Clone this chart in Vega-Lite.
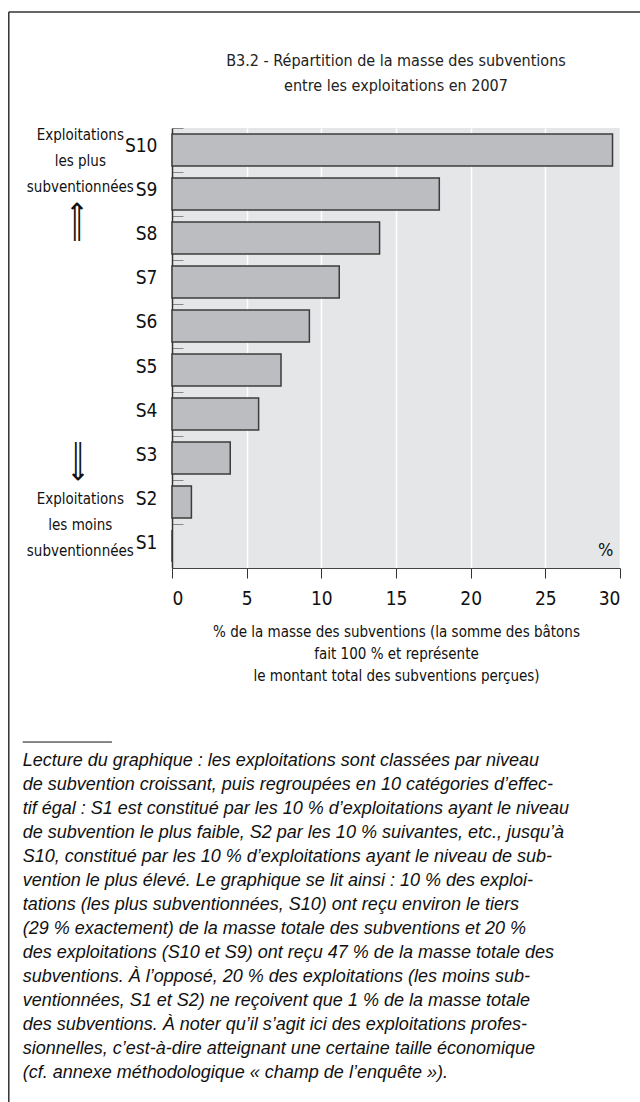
{
  "$schema": "https://vega.github.io/schema/vega-lite/v6.json",
  "width": 448,
  "height": 440,
  "autosize": {"type": "none"},
  "padding": {"left": 172, "top": 128, "right": 20, "bottom": 534},
  "background": "white",
  "config": {"view": {"fill": "#e5e6e8", "stroke": null}},
  "datasets": {
    "bars": [
      {"cat": "S10", "value": 29.5},
      {"cat": "S9", "value": 17.9},
      {"cat": "S8", "value": 13.9},
      {"cat": "S7", "value": 11.2},
      {"cat": "S6", "value": 9.2},
      {"cat": "S5", "value": 7.3},
      {"cat": "S4", "value": 5.8},
      {"cat": "S3", "value": 3.9},
      {"cat": "S2", "value": 1.3},
      {"cat": "S1", "value": 0}
    ],
    "note": [
      {"line": 1, "text": "Lecture du graphique : les exploitations sont classées par niveau"},
      {"line": 2, "text": "de subvention croissant, puis regroupées en 10 catégories d’effec-"},
      {"line": 3, "text": "tif égal : S1 est constitué par les 10 % d’exploitations ayant le niveau"},
      {"line": 4, "text": "de subvention le plus faible, S2 par les 10 % suivantes, etc., jusqu’à"},
      {"line": 5, "text": "S10, constitué par les 10 % d’exploitations ayant le niveau de sub-"},
      {"line": 6, "text": "vention le plus élevé. Le graphique se lit ainsi : 10 % des exploi-"},
      {"line": 7, "text": "tations (les plus subventionnées, S10) ont reçu environ le tiers"},
      {"line": 8, "text": "(29 % exactement) de la masse totale des subventions et 20 %"},
      {"line": 9, "text": "des exploitations (S10 et S9) ont reçu 47 % de la masse totale des"},
      {"line": 10, "text": "subventions. À l’opposé, 20 % des exploitations (les moins sub-"},
      {"line": 11, "text": "ventionnées, S1 et S2) ne reçoivent que 1 % de la masse totale"},
      {"line": 12, "text": "des subventions. À noter qu’il s’agit ici des exploitations profes-"},
      {"line": 13, "text": "sionnelles, c’est-à-dire atteignant une certaine taille économique"},
      {"line": 14, "text": "(cf. annexe méthodologique « champ de l’enquête »)."}
    ]
  },
  "resolve": {"scale": {"y": "independent"}},
  "layer": [
    {
      "layer": [
        {
          "data": {"name": "bars"},
          "mark": {"type": "bar", "fill": "#bcbdc1", "stroke": "#3c3c3c", "strokeWidth": 1.5},
          "encoding": {
            "y": {
              "field": "cat", "type": "nominal",
              "scale": {"domain": ["S10","S9","S8","S7","S6","S5","S4","S3","S2","S1"], "paddingInner": 0.273, "paddingOuter": 0.136},
              "axis": {
                "title": null, "grid": false,
                "domain": true, "domainColor": "#333", "domainWidth": 1.5,
                "ticks": true, "tickSize": -11, "tickOffset": -22, "tickColor": "#888", "tickWidth": 1,
                "labelFont": "DejaVu Sans Condensed, sans-serif",
                "labelFontSize": 19, "labelColor": "#111", "labelPadding": 26, "labelOffset": 18
              }
            },
            "x": {
              "field": "value", "type": "quantitative",
              "scale": {"domain": [0, 30], "nice": false},
              "axis": {
                "values": [0, 5, 10, 15, 20, 25, 30],
                "grid": true, "gridColor": "white", "gridWidth": 1.5,
                "domain": true, "domainColor": "#444", "domainWidth": 1,
                "tickSize": 10, "tickColor": "#333", "tickWidth": 1,
                "labelFont": "DejaVu Sans Condensed, sans-serif",
                "labelFontSize": 19, "labelColor": "#111", "labelPadding": 11,
                "title": ["% de la masse des subventions (la somme des bâtons", "fait 100 % et représente", "le montant total des subventions perçues)"],
                "titleFont": "DejaVu Sans Condensed, sans-serif",
                "titleFontSize": 15, "titleFontWeight": "normal", "titleColor": "#111",
                "titlePadding": 16, "titleLineHeight": 22
              }
            }
          }
        },
        {
          "data": {"values": [{}]},
          "mark": {"type": "text", "text": "%", "fontSize": 18, "font": "DejaVu Sans Condensed, sans-serif", "color": "#111", "align": "center", "baseline": "middle", "dy": 4.5},
          "encoding": {
            "x": {"datum": 29.04, "type": "quantitative", "scale": {"domain": [0, 30], "nice": false}},
            "y": {"datum": "S1", "type": "nominal", "scale": {"domain": ["S10","S9","S8","S7","S6","S5","S4","S3","S2","S1"], "paddingInner": 0.273, "paddingOuter": 0.136}}
          }
        },
        {
          "data": {"values": [{}]},
          "mark": {"type": "text", "text": ["B3.2 - Répartition de la masse des subventions", "entre les exploitations en 2007"], "lineHeight": 25, "fontSize": 16, "font": "DejaVu Sans Condensed, sans-serif", "color": "#222", "align": "center", "baseline": "middle", "dy": -89},
          "encoding": {
            "x": {"datum": 15, "type": "quantitative", "scale": {"domain": [0, 30], "nice": false}},
            "y": {"datum": "S10", "type": "nominal", "scale": {"domain": ["S10","S9","S8","S7","S6","S5","S4","S3","S2","S1"], "paddingInner": 0.273, "paddingOuter": 0.136}}
          }
        },
        {
          "data": {"values": [{}]},
          "mark": {"type": "text", "text": ["Exploitations", "les plus", "subventionnées"], "lineHeight": 26, "fontSize": 15, "font": "DejaVu Sans Condensed, sans-serif", "color": "#111", "align": "center", "baseline": "middle", "dy": -15},
          "encoding": {
            "x": {"datum": -6.14, "type": "quantitative", "scale": {"domain": [0, 30], "nice": false}},
            "y": {"datum": "S10", "type": "nominal", "scale": {"domain": ["S10","S9","S8","S7","S6","S5","S4","S3","S2","S1"], "paddingInner": 0.273, "paddingOuter": 0.136}}
          }
        },
        {
          "data": {"values": [{}]},
          "mark": {"type": "text", "text": ["Exploitations", "les moins", "subventionnées"], "lineHeight": 26, "fontSize": 15, "font": "DejaVu Sans Condensed, sans-serif", "color": "#111", "align": "center", "baseline": "middle", "dy": -3},
          "encoding": {
            "x": {"datum": -6.14, "type": "quantitative", "scale": {"domain": [0, 30], "nice": false}},
            "y": {"datum": "S2", "type": "nominal", "scale": {"domain": ["S10","S9","S8","S7","S6","S5","S4","S3","S2","S1"], "paddingInner": 0.273, "paddingOuter": 0.136}}
          }
        },
        {
          "data": {"values": [{}]},
          "mark": {"type": "text", "text": "⟹", "angle": 270, "fontSize": 29, "font": "DejaVu Sans", "color": "#111", "align": "center", "baseline": "middle", "yOffset": 28},
          "encoding": {
            "x": {"datum": -6.37, "type": "quantitative", "scale": {"domain": [0, 30], "nice": false}},
            "y": {"datum": "S9", "type": "nominal", "scale": {"domain": ["S10","S9","S8","S7","S6","S5","S4","S3","S2","S1"], "paddingInner": 0.273, "paddingOuter": 0.136}}
          }
        },
        {
          "data": {"values": [{}]},
          "mark": {"type": "text", "text": "⟹", "angle": 90, "fontSize": 29, "font": "DejaVu Sans", "color": "#111", "align": "center", "baseline": "middle", "yOffset": 3},
          "encoding": {
            "x": {"datum": -6.3, "type": "quantitative", "scale": {"domain": [0, 30], "nice": false}},
            "y": {"datum": "S3", "type": "nominal", "scale": {"domain": ["S10","S9","S8","S7","S6","S5","S4","S3","S2","S1"], "paddingInner": 0.273, "paddingOuter": 0.136}}
          }
        }
      ]
    },
    {
      "layer": [
        {
          "data": {"name": "note"},
          "mark": {"type": "text", "fontSize": 18, "font": "Liberation Sans, Arial, sans-serif", "fontStyle": "italic", "color": "#111", "align": "left", "baseline": "middle"},
          "encoding": {
            "x": {"datum": -10, "type": "quantitative", "scale": {"domain": [0, 30], "nice": false}},
            "y": {"field": "line", "type": "quantitative", "scale": {"domain": [0, 14], "range": [609, 945], "nice": false, "zero": false}, "axis": null},
            "text": {"field": "text", "type": "nominal"}
          }
        },
        {
          "data": {"values": [{}]},
          "mark": {"type": "rule", "color": "#111", "strokeWidth": 1},
          "encoding": {
            "x": {"datum": -10, "type": "quantitative", "scale": {"domain": [0, 30], "nice": false}},
            "x2": {"datum": -4.02},
            "y": {"datum": 0.21, "type": "quantitative", "scale": {"domain": [0, 14], "range": [609, 945], "nice": false, "zero": false}, "axis": null}
          }
        },
        {
          "data": {"values": [{}]},
          "mark": {"type": "rule", "color": "#333", "strokeWidth": 1.5},
          "encoding": {
            "x": {"datum": -10.93, "type": "quantitative", "scale": {"domain": [0, 30], "nice": false}},
            "x2": {"datum": 33},
            "y": {"datum": -30.21, "type": "quantitative", "scale": {"domain": [0, 14], "range": [609, 945], "nice": false, "zero": false}, "axis": null}
          }
        },
        {
          "data": {"values": [{}]},
          "mark": {"type": "rule", "color": "#333", "strokeWidth": 1.5},
          "encoding": {
            "x": {"datum": -10.93, "type": "quantitative", "scale": {"domain": [0, 30], "nice": false}},
            "y": {"datum": -30.21, "type": "quantitative", "scale": {"domain": [0, 14], "range": [609, 945], "nice": false, "zero": false}, "axis": null},
            "y2": {"datum": 16}
          }
        }
      ]
    }
  ]
}
